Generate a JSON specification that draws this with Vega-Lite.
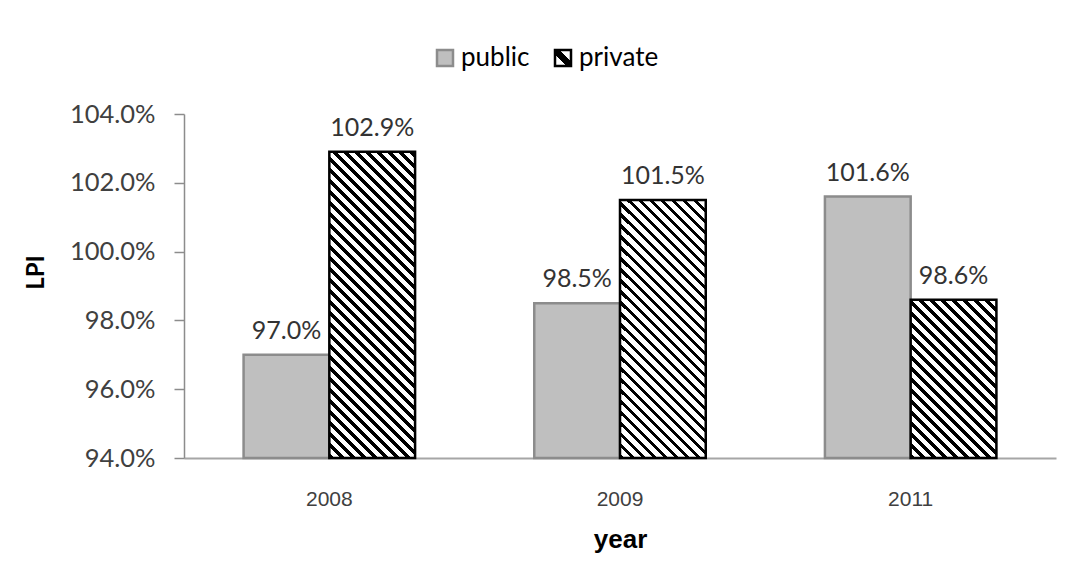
{
  "$schema": "https://vega.github.io/schema/vega-lite/v6.json",
  "width": 872,
  "height": 344,
  "autosize": {"type": "none"},
  "padding": {"left": 184, "top": 114, "right": 12, "bottom": 112},
  "background": "#ffffff",
  "config": {
    "view": {"stroke": null},
    "axis": {"grid": false}
  },
  "params": [
    {"name": "legendGrad", "value": {"gradient": "linear", "x1": 0, "y1": 1, "x2": 1, "y2": 0, "stops": [
      {"offset": 0, "color": "#fff"}, {"offset": 0.36, "color": "#fff"}, {"offset": 0.36, "color": "#000"},
      {"offset": 0.64, "color": "#000"}, {"offset": 0.64, "color": "#fff"}, {"offset": 1, "color": "#fff"}]}},
    {"name": "stripes", "value": [
      {"offset":0,"color":"#000"},{"offset":0.01125,"color":"#000"},{"offset":0.01125,"color":"#fff"},{"offset":0.025,"color":"#fff"},
      {"offset":0.025,"color":"#000"},{"offset":0.03625,"color":"#000"},{"offset":0.03625,"color":"#fff"},{"offset":0.05,"color":"#fff"},
      {"offset":0.05,"color":"#000"},{"offset":0.06125,"color":"#000"},{"offset":0.06125,"color":"#fff"},{"offset":0.075,"color":"#fff"},
      {"offset":0.075,"color":"#000"},{"offset":0.08625,"color":"#000"},{"offset":0.08625,"color":"#fff"},{"offset":0.1,"color":"#fff"},
      {"offset":0.1,"color":"#000"},{"offset":0.11125,"color":"#000"},{"offset":0.11125,"color":"#fff"},{"offset":0.125,"color":"#fff"},
      {"offset":0.125,"color":"#000"},{"offset":0.13625,"color":"#000"},{"offset":0.13625,"color":"#fff"},{"offset":0.15,"color":"#fff"},
      {"offset":0.15,"color":"#000"},{"offset":0.16125,"color":"#000"},{"offset":0.16125,"color":"#fff"},{"offset":0.175,"color":"#fff"},
      {"offset":0.175,"color":"#000"},{"offset":0.18625,"color":"#000"},{"offset":0.18625,"color":"#fff"},{"offset":0.2,"color":"#fff"},
      {"offset":0.2,"color":"#000"},{"offset":0.21125,"color":"#000"},{"offset":0.21125,"color":"#fff"},{"offset":0.225,"color":"#fff"},
      {"offset":0.225,"color":"#000"},{"offset":0.23625,"color":"#000"},{"offset":0.23625,"color":"#fff"},{"offset":0.25,"color":"#fff"},
      {"offset":0.25,"color":"#000"},{"offset":0.26125,"color":"#000"},{"offset":0.26125,"color":"#fff"},{"offset":0.275,"color":"#fff"},
      {"offset":0.275,"color":"#000"},{"offset":0.28625,"color":"#000"},{"offset":0.28625,"color":"#fff"},{"offset":0.3,"color":"#fff"},
      {"offset":0.3,"color":"#000"},{"offset":0.31125,"color":"#000"},{"offset":0.31125,"color":"#fff"},{"offset":0.325,"color":"#fff"},
      {"offset":0.325,"color":"#000"},{"offset":0.33625,"color":"#000"},{"offset":0.33625,"color":"#fff"},{"offset":0.35,"color":"#fff"},
      {"offset":0.35,"color":"#000"},{"offset":0.36125,"color":"#000"},{"offset":0.36125,"color":"#fff"},{"offset":0.375,"color":"#fff"},
      {"offset":0.375,"color":"#000"},{"offset":0.38625,"color":"#000"},{"offset":0.38625,"color":"#fff"},{"offset":0.4,"color":"#fff"},
      {"offset":0.4,"color":"#000"},{"offset":0.41125,"color":"#000"},{"offset":0.41125,"color":"#fff"},{"offset":0.425,"color":"#fff"},
      {"offset":0.425,"color":"#000"},{"offset":0.43625,"color":"#000"},{"offset":0.43625,"color":"#fff"},{"offset":0.45,"color":"#fff"},
      {"offset":0.45,"color":"#000"},{"offset":0.46125,"color":"#000"},{"offset":0.46125,"color":"#fff"},{"offset":0.475,"color":"#fff"},
      {"offset":0.475,"color":"#000"},{"offset":0.48625,"color":"#000"},{"offset":0.48625,"color":"#fff"},{"offset":0.5,"color":"#fff"},
      {"offset":0.5,"color":"#000"},{"offset":0.51125,"color":"#000"},{"offset":0.51125,"color":"#fff"},{"offset":0.525,"color":"#fff"},
      {"offset":0.525,"color":"#000"},{"offset":0.53625,"color":"#000"},{"offset":0.53625,"color":"#fff"},{"offset":0.55,"color":"#fff"},
      {"offset":0.55,"color":"#000"},{"offset":0.56125,"color":"#000"},{"offset":0.56125,"color":"#fff"},{"offset":0.575,"color":"#fff"},
      {"offset":0.575,"color":"#000"},{"offset":0.58625,"color":"#000"},{"offset":0.58625,"color":"#fff"},{"offset":0.6,"color":"#fff"},
      {"offset":0.6,"color":"#000"},{"offset":0.61125,"color":"#000"},{"offset":0.61125,"color":"#fff"},{"offset":0.625,"color":"#fff"},
      {"offset":0.625,"color":"#000"},{"offset":0.63625,"color":"#000"},{"offset":0.63625,"color":"#fff"},{"offset":0.65,"color":"#fff"},
      {"offset":0.65,"color":"#000"},{"offset":0.66125,"color":"#000"},{"offset":0.66125,"color":"#fff"},{"offset":0.675,"color":"#fff"},
      {"offset":0.675,"color":"#000"},{"offset":0.68625,"color":"#000"},{"offset":0.68625,"color":"#fff"},{"offset":0.7,"color":"#fff"},
      {"offset":0.7,"color":"#000"},{"offset":0.71125,"color":"#000"},{"offset":0.71125,"color":"#fff"},{"offset":0.725,"color":"#fff"},
      {"offset":0.725,"color":"#000"},{"offset":0.73625,"color":"#000"},{"offset":0.73625,"color":"#fff"},{"offset":0.75,"color":"#fff"},
      {"offset":0.75,"color":"#000"},{"offset":0.76125,"color":"#000"},{"offset":0.76125,"color":"#fff"},{"offset":0.775,"color":"#fff"},
      {"offset":0.775,"color":"#000"},{"offset":0.78625,"color":"#000"},{"offset":0.78625,"color":"#fff"},{"offset":0.8,"color":"#fff"},
      {"offset":0.8,"color":"#000"},{"offset":0.81125,"color":"#000"},{"offset":0.81125,"color":"#fff"},{"offset":0.825,"color":"#fff"},
      {"offset":0.825,"color":"#000"},{"offset":0.83625,"color":"#000"},{"offset":0.83625,"color":"#fff"},{"offset":0.85,"color":"#fff"},
      {"offset":0.85,"color":"#000"},{"offset":0.86125,"color":"#000"},{"offset":0.86125,"color":"#fff"},{"offset":0.875,"color":"#fff"},
      {"offset":0.875,"color":"#000"},{"offset":0.88625,"color":"#000"},{"offset":0.88625,"color":"#fff"},{"offset":0.9,"color":"#fff"},
      {"offset":0.9,"color":"#000"},{"offset":0.91125,"color":"#000"},{"offset":0.91125,"color":"#fff"},{"offset":0.925,"color":"#fff"}
    ]}
  ],
  "data": {"values": [
    {"year": "2008", "type": "public", "value": 0.970},
    {"year": "2008", "type": "private", "value": 1.029},
    {"year": "2009", "type": "public", "value": 0.985},
    {"year": "2009", "type": "private", "value": 1.015},
    {"year": "2011", "type": "public", "value": 1.016},
    {"year": "2011", "type": "private", "value": 0.986}
  ]},
  "encoding": {
    "x": {
      "field": "year", "type": "nominal",
      "scale": {"paddingInner": 0.41, "paddingOuter": 0.205},
      "axis": {
        "title": "year", "labelAngle": 0, "ticks": false,
        "domainColor": "#a6a6a6", "domainWidth": 2,
        "labelFont": "Liberation Sans", "labelFontSize": 21, "labelColor": "#404040",
        "labelPadding": 30,
        "titleFont": "Liberation Sans", "titleFontSize": 26, "titleFontWeight": "bold", "titleColor": "#000000",
        "titlePadding": 17
      }
    },
    "xOffset": {
      "field": "type", "type": "nominal",
      "scale": {"domain": ["public", "private"], "paddingInner": 0, "paddingOuter": 0}
    },
    "y": {
      "field": "value", "type": "quantitative",
      "scale": {"domain": [0.94, 1.04], "zero": false, "nice": false},
      "axis": {
        "title": "LPI", "format": ".1%",
        "values": [0.94, 0.96, 0.98, 1.0, 1.02, 1.04],
        "domainColor": "#8c8c8c", "domainWidth": 1.5,
        "tickColor": "#8c8c8c", "tickWidth": 1.5, "tickSize": 10,
        "labelFont": "Lato", "labelFontSize": 25.5, "labelColor": "#404040", "labelPadding": 19,
        "titleFont": "Lato", "titleFontSize": 24, "titleFontWeight": "bold", "titleColor": "#000000",
        "titlePadding": 21, "titleY": 158
      }
    }
  },
  "layer": [
    {
      "transform": [{"filter": "datum.type === 'public'"}],
      "mark": {"type": "bar", "strokeWidth": 2.5},
      "encoding": {
        "y2": {"datum": 0.94},
        "fill": {
          "field": "type", "type": "nominal",
          "scale": {"domain": ["public", "private"], "range": ["#bfbfbf", {"expr": "legendGrad"}]},
          "legend": {
            "title": null, "orient": "none", "direction": "horizontal",
            "legendX": 248, "legendY": -69, "padding": 0,
            "symbolType": "square", "symbolSize": 256, "symbolStrokeWidth": 2.5,
            "labelFont": "Lato", "labelFontSize": 26, "labelColor": "#000000", "labelOffset": 3,
            "columnPadding": 20
          }
        },
        "stroke": {
          "field": "type", "type": "nominal",
          "scale": {"domain": ["public", "private"], "range": ["#8c8c8c", "#000000"]}
        }
      }
    },
    {
      "transform": [{"filter": "datum.type === 'private' && datum.year === '2008'"}],
      "mark": {"type": "bar", "stroke": "#000000", "strokeWidth": 2.5,
        "fill": {"expr": "{gradient: 'linear', x1: 0, y1: 1, x2: 0.3732, y2: -0.3325, stops: stripes}"}},
      "encoding": {"y2": {"datum": 0.94}}
    },
    {
      "transform": [{"filter": "datum.type === 'private' && datum.year === '2009'"}],
      "mark": {"type": "bar", "stroke": "#000000", "strokeWidth": 2.5,
        "fill": {"expr": "{gradient: 'linear', x1: 0, y1: 1, x2: 0.5104, y2: -0.5358, stops: stripes}"}},
      "encoding": {"y2": {"datum": 0.94}}
    },
    {
      "transform": [{"filter": "datum.type === 'private' && datum.year === '2011'"}],
      "mark": {"type": "bar", "stroke": "#000000", "strokeWidth": 2.5,
        "fill": {"expr": "{gradient: 'linear', x1: 0, y1: 1, x2: 1.1653, y2: -1.1497, stops: stripes}"}},
      "encoding": {"y2": {"datum": 0.94}}
    },
    {
      "mark": {"type": "text", "font": "Lato", "fontSize": 25, "color": "#333333", "baseline": "alphabetic", "dy": -16},
      "encoding": {
        "text": {"field": "value", "type": "quantitative", "format": ".1%"}
      }
    }
  ]
}
